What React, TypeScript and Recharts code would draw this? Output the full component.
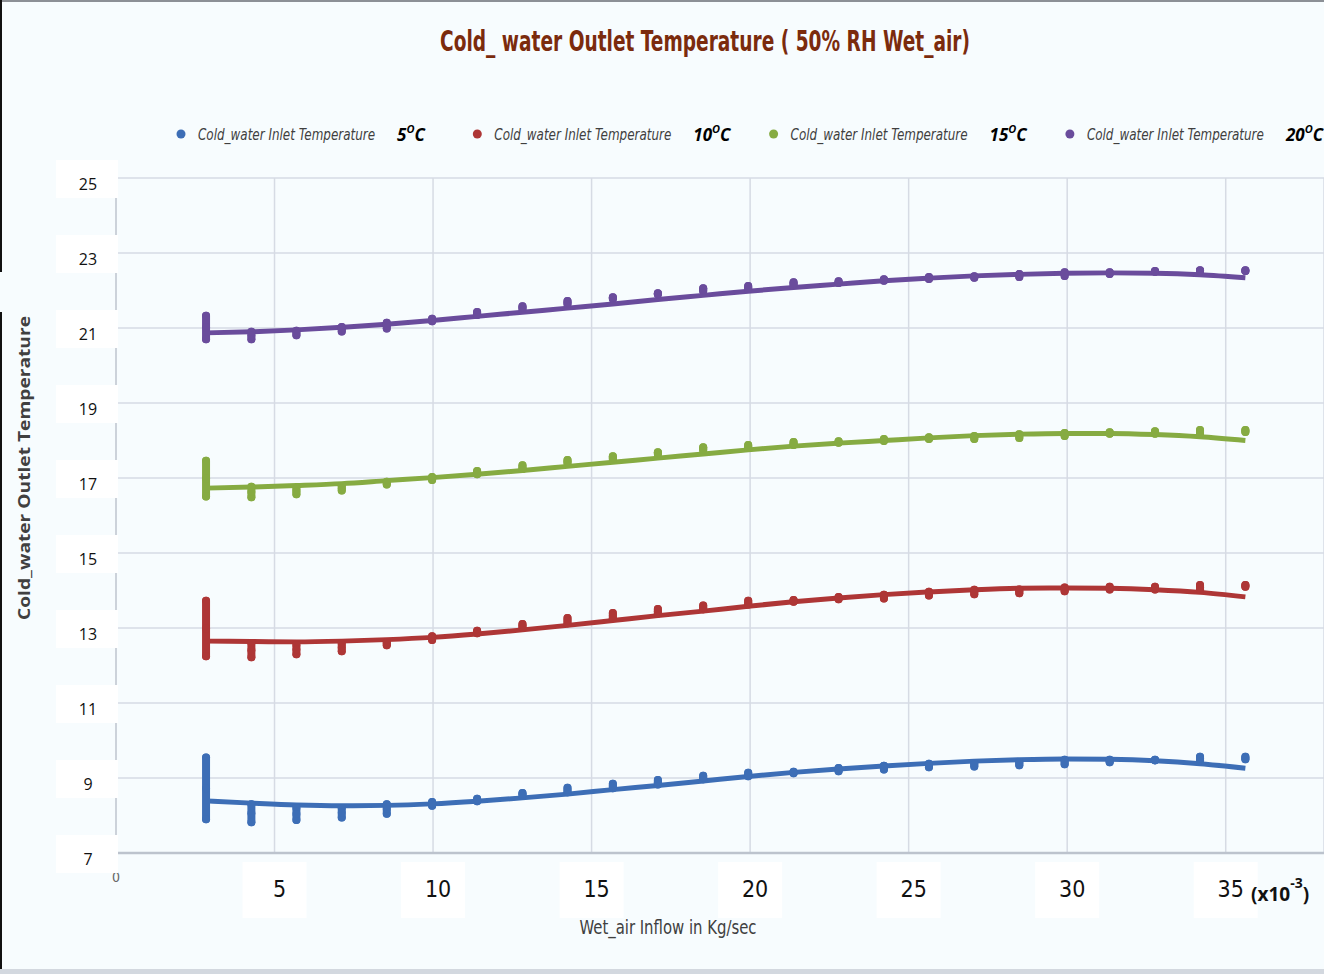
import React from "react";
import { ComposedChart, Line, Scatter, ErrorBar, XAxis, YAxis, CartesianGrid } from "recharts";

// wet air inflow (x10^-3 kg/s)
const flowX = [2.84, 4.27, 5.69, 7.12, 8.54, 9.97, 11.39, 12.82, 14.24, 15.67, 17.09, 18.52, 19.94, 21.37, 22.79, 24.22, 25.64, 27.07, 28.49, 29.92, 31.34, 32.77, 34.19, 35.62];

// 5 °C inlet
const hi5 = [9.55, 8.3, 8.2, 8.2, 8.3, 8.36, 8.45, 8.6, 8.74, 8.85, 8.95, 9.06, 9.14, 9.17, 9.27, 9.33, 9.38, 9.4, 9.43, 9.49, 9.49, 9.49, 9.57, 9.57];
const lo5 = [7.9, 7.82, 7.88, 7.95, 8.05, 8.26, 8.38, 8.55, 8.62, 8.73, 8.83, 8.97, 9.05, 9.13, 9.18, 9.23, 9.29, 9.31, 9.34, 9.37, 9.42, 9.47, 9.47, 9.5];
const trend5 = [8.39, 8.33, 8.28, 8.26, 8.27, 8.31, 8.38, 8.47, 8.57, 8.69, 8.8, 8.92, 9.04, 9.15, 9.24, 9.32, 9.39, 9.45, 9.49, 9.51, 9.5, 9.46, 9.38, 9.26];

// 10 °C inlet
const hi10 = [13.73, 12.6, 12.55, 12.58, 12.63, 12.78, 12.93, 13.11, 13.27, 13.4, 13.51, 13.6, 13.73, 13.75, 13.83, 13.89, 13.97, 14.02, 14.03, 14.08, 14.1, 14.1, 14.15, 14.15];
const lo10 = [12.25, 12.22, 12.3, 12.38, 12.54, 12.68, 12.86, 13.02, 13.13, 13.26, 13.39, 13.5, 13.63, 13.7, 13.77, 13.79, 13.87, 13.9, 13.93, 13.98, 14.03, 14.03, 14.03, 14.1];
const trend10 = [12.65, 12.64, 12.63, 12.65, 12.69, 12.75, 12.84, 12.95, 13.07, 13.2, 13.33, 13.45, 13.58, 13.7, 13.8, 13.89, 13.96, 14.02, 14.06, 14.07, 14.06, 14.02, 13.95, 13.83];

// 15 °C inlet
const hi15 = [17.46, 16.77, 16.71, 16.79, 16.9, 17.03, 17.19, 17.34, 17.48, 17.58, 17.69, 17.82, 17.88, 17.96, 17.98, 18.04, 18.09, 18.12, 18.17, 18.2, 18.22, 18.25, 18.28, 18.28];
const lo15 = [16.51, 16.49, 16.57, 16.67, 16.83, 16.95, 17.1, 17.24, 17.4, 17.51, 17.64, 17.75, 17.8, 17.88, 17.94, 17.99, 18.04, 18.04, 18.07, 18.12, 18.18, 18.18, 18.18, 18.23];
const trend15 = [16.73, 16.76, 16.8, 16.85, 16.93, 17.01, 17.1, 17.2, 17.31, 17.42, 17.53, 17.64, 17.75, 17.85, 17.93, 18.0, 18.07, 18.13, 18.17, 18.19, 18.19, 18.16, 18.1, 18.0];

// 20 °C inlet
const hi20 = [21.33, 20.9, 20.93, 21.03, 21.14, 21.25, 21.43, 21.58, 21.72, 21.82, 21.93, 22.06, 22.12, 22.22, 22.25, 22.3, 22.36, 22.38, 22.44, 22.49, 22.49, 22.52, 22.54, 22.54];
const lo20 = [20.7, 20.7, 20.81, 20.91, 20.99, 21.18, 21.35, 21.51, 21.64, 21.78, 21.9, 21.99, 22.04, 22.15, 22.2, 22.26, 22.31, 22.34, 22.36, 22.39, 22.44, 22.5, 22.52, 22.52];
const trend20 = [20.87, 20.9, 20.95, 21.02, 21.1, 21.2, 21.31, 21.42, 21.53, 21.64, 21.76, 21.87, 21.98, 22.08, 22.17, 22.26, 22.33, 22.39, 22.43, 22.46, 22.47, 22.46, 22.42, 22.34];

const inletTemps = ["5", "10", "15", "20"];
const xTicks = [0, 5, 10, 15, 20, 25, 30, 35];
const yTicks = [7, 9, 11, 13, 15, 17, 19, 21, 23, 25];

const NARROW = "'Liberation Sans Narrow', 'DejaVu Sans Condensed', 'Liberation Sans', sans-serif";
const SANS = "'Open Sans', 'Noto Sans', sans-serif";

const series = [
  { temp: inletTemps[0], color: "#3D6EB6", hi: hi5, lo: lo5, trend: trend5 },
  { temp: inletTemps[1], color: "#AE3636", hi: hi10, lo: lo10, trend: trend10 },
  { temp: inletTemps[2], color: "#86AB42", hi: hi15, lo: lo15, trend: trend15 },
  { temp: inletTemps[3], color: "#6A4C9C", hi: hi20, lo: lo20, trend: trend20 },
];

const markerRows = (hi: number[], lo: number[]) =>
  flowX.map((x, i) => {
    const half = (hi[i] - lo[i]) / 2;
    return { x, y: (hi[i] + lo[i]) / 2, err: [half, half] };
  });

const trendRows = (t: number[]) => flowX.map((x, i) => ({ x, y: t[i] }));

function YTick({ x, y, payload }: any) {
  return (
    <g>
      <rect x={x - 60} y={y - 18} width={62} height={38} fill="#ffffff" />
      <text x={x - 28} y={y + 6} textAnchor="middle" dominantBaseline="central" fontSize={16} fontFamily={SANS} fill="#111">
        {payload.value}
      </text>
    </g>
  );
}

function XTick({ x, y, payload }: any) {
  if (payload.value === 0) {
    return (
      <text x={x} y={y + 29} textAnchor="middle" fontSize={14} fontFamily={NARROW} fill="#666">
        0
      </text>
    );
  }
  return (
    <g>
      <rect x={x - 32} y={y + 9} width={64} height={56} fill="#ffffff" />
      <text x={x + 5} y={y + 44} textAnchor="middle" fontSize={23} fontFamily={NARROW} fill="#111">
        {payload.value}
      </text>
    </g>
  );
}

export default function App() {
  return (
    <div style={{ position: "fixed", left: 0, top: 0, width: 1324, height: 974, background: "#F7FCFE" }}>
      <ComposedChart width={1324} height={974} margin={{ top: 178, right: 0, bottom: 0, left: 0 }}>
        <CartesianGrid stroke="#D6DBE4" strokeWidth={1.5} />
        <XAxis
          type="number"
          dataKey="x"
          domain={[0, 38.1]}
          ticks={xTicks}
          height={121}
          tick={<XTick />}
          tickLine={false}
          tickSize={0}
          tickMargin={0}
          axisLine={{ stroke: "#BCC3CD", strokeWidth: 2.5 }}
          allowDataOverflow
        />
        <YAxis
          type="number"
          dataKey="y"
          domain={[7, 25]}
          ticks={yTicks}
          width={116}
          tick={<YTick />}
          tickLine={false}
          tickSize={0}
          tickMargin={0}
          axisLine={{ stroke: "#CCD2DA", strokeWidth: 2 }}
          allowDataOverflow
        />
        {series.map((s) => (
          <Line
            key={`trend-${s.temp}`}
            data={trendRows(s.trend)}
            dataKey="y"
            type="monotone"
            stroke={s.color}
            strokeWidth={5}
            dot={false}
            activeDot={false}
            isAnimationActive={false}
          />
        ))}
        {series.map((s) => (
          <Scatter
            key={`pts-${s.temp}`}
            data={markerRows(s.hi, s.lo)}
            dataKey="y"
            fill={s.color}
            isAnimationActive={false}
            shape={(p: any) => <circle cx={p.cx} cy={p.cy} r={4} fill={s.color} />}
          >
            <ErrorBar
              dataKey="err"
              direction="y"
              width={0}
              stroke={s.color}
              strokeWidth={8}
              strokeLinecap="round"
              isAnimationActive={false}
            />
          </Scatter>
        ))}
      </ComposedChart>

      <svg width={1324} height={974} style={{ position: "absolute", left: 0, top: 0, pointerEvents: "none" }}>
        {/* frame */}
        <rect x={0} y={0} width={1324} height={2} fill="#8C9096" />
        <rect x={0} y={0} width={2} height={272} fill="#111" />
        <rect x={0} y={312} width={2} height={662} fill="#111" />
        <rect x={0} y={969} width={1324} height={5} fill="#D3D8DF" />

        <text
          x={705}
          y={51}
          textAnchor="middle"
          fontSize={29}
          fontWeight="bold"
          fontFamily={NARROW}
          fill="#7B2B0D"
          textLength={530}
          lengthAdjust="spacingAndGlyphs"
        >
          Cold_ water Outlet Temperature ( 50% RH Wet_air)
        </text>

        {series.map((s, i) => {
          const dx = 181 + i * 296.3;
          return (
            <g key={`leg-${s.temp}`}>
              <circle cx={dx} cy={134} r={4.5} fill={s.color} />
              <text
                x={dx + 17}
                y={140}
                fontSize={15}
                fontStyle="italic"
                fontFamily={NARROW}
                fill="#3F3F3F"
                textLength={177}
                lengthAdjust="spacingAndGlyphs"
              >
                Cold_water Inlet Temperature
              </text>
              <text x={dx + 216} y={141} fontSize={17} fontStyle="italic" fontWeight="bold" fontFamily={SANS} fill="#000">
                {s.temp}
                <tspan dy={-8} fontSize={11}>O</tspan>
                <tspan dy={8}>C</tspan>
              </text>
            </g>
          );
        })}

        <text
          transform="translate(24,468) rotate(-90)"
          textAnchor="middle"
          dominantBaseline="central"
          fontSize={16}
          fontWeight="bold"
          fontFamily={SANS}
          fill="#404040"
          textLength={304}
          lengthAdjust="spacingAndGlyphs"
        >
          Cold_water Outlet Temperature
        </text>

        <text
          x={668}
          y={934}
          textAnchor="middle"
          fontSize={20}
          fontFamily={NARROW}
          fill="#404040"
          textLength={177}
          lengthAdjust="spacingAndGlyphs"
        >
          Wet_air Inflow in Kg/sec
        </text>

        <text x={1251} y={901} fontSize={19} fontWeight="bold" fontFamily={SANS} fill="#111">
          (x10
          <tspan dy={-13} fontSize={14}>-3</tspan>
          <tspan dy={13}>)</tspan>
        </text>
      </svg>
    </div>
  );
}
